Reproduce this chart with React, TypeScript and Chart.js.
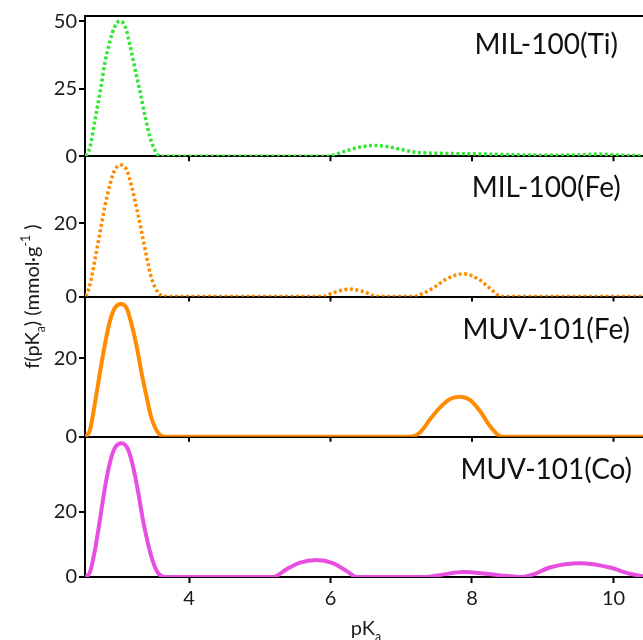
import React, { useEffect, useRef } from 'react';
import { Chart, registerables } from 'chart.js';

Chart.register(...registerables);

// ---- data ----
const xTi = [2.54, 2.6, 2.67, 2.75, 2.81, 2.88, 2.95, 3.02, 3.1, 3.17, 3.24, 3.3, 3.38, 3.45, 3.52, 3.59, 3.8, 4.5, 5.5, 5.9, 6.0, 6.2, 6.4, 6.63, 6.8, 7.0, 7.2, 7.5, 8.0, 8.5, 9.0, 9.5, 9.8, 10.1, 10.42];
const yTi = [0, 3.3, 13.2, 24.9, 34.4, 42.4, 47.9, 50, 47.9, 40.5, 31.9, 24.9, 14.7, 7.0, 2.1, 0, 0, 0, 0, 0, 0.2, 1.8, 3.3, 4.0, 3.6, 2.5, 1.5, 1.1, 0.9, 0.6, 0.4, 0.5, 0.8, 0.4, 0.2];

const xFeMIL = [2.54, 2.6, 2.67, 2.74, 2.81, 2.88, 2.95, 3.035, 3.12, 3.19, 3.26, 3.33, 3.4, 3.47, 3.57, 3.66, 4.5, 5.5, 5.89, 6.05, 6.28, 6.5, 6.65, 7.0, 7.17, 7.3, 7.45, 7.64, 7.88, 8.11, 8.25, 8.42, 9.0, 10.42];
const yFeMIL = [0, 3.2, 10.0, 17.3, 24.5, 30.4, 34.5, 35.9, 34.5, 30, 24.1, 17.7, 10.9, 5.0, 0.9, 0, 0, 0, 0, 1.1, 2.0, 1.1, 0, 0, 0, 0.8, 2.3, 4.8, 6.2, 4.5, 2.3, 0, 0, 0];

const xFeMUV = [2.54, 2.6, 2.67, 2.74, 2.81, 2.88, 2.95, 3.035, 3.12, 3.19, 3.26, 3.33, 3.4, 3.47, 3.57, 3.66, 4.5, 5.5, 6.5, 7.12, 7.265, 7.41, 7.55, 7.69, 7.83, 7.97, 8.11, 8.25, 8.37, 8.45, 9.0, 10.42];
const yFeMUV = [0, 1.7, 8.5, 16.2, 23.4, 29.3, 32.7, 33.8, 32.7, 28.5, 23, 16.2, 10.2, 4.7, 0.85, 0, 0, 0, 0, 0, 1.1, 4.5, 7.5, 9.6, 10.2, 9.4, 6.6, 2.8, 0.4, 0, 0, 0];

const xCo = [2.54, 2.6, 2.67, 2.74, 2.81, 2.88, 2.95, 3.05, 3.14, 3.21, 3.28, 3.35, 3.42, 3.5, 3.57, 3.66, 4.5, 5.19, 5.38, 5.57, 5.8, 6.04, 6.23, 6.37, 7.0, 7.36, 7.6, 7.88, 8.2, 8.5, 8.68, 8.87, 9.1, 9.53, 9.95, 10.23, 10.42];
const yCo = [0, 1.5, 8.2, 17.4, 27.2, 34.9, 39.5, 41.0, 39, 33.8, 26.2, 17.4, 10.3, 4.1, 1.0, 0, 0, 0, 2.4, 4.4, 5.2, 4.2, 1.8, 0, 0, 0, 0.8, 1.5, 1.0, 0.3, 0, 0.8, 2.9, 4.2, 2.9, 1.0, 0.2];

const panelLabels = ['MIL-100(Ti)', 'MIL-100(Fe)', 'MUV-101(Fe)', 'MUV-101(Co)'];
const panelMax = [51.9, 38.3, 35.7, 43];
const panelTicks = [[0, 25, 50], [0, 20], [0, 20], [0, 20]];
const labelX = 9.05;
const labelY = [41.2, 29.6, 27.2, 32.8];
const xTicks = [4, 6, 8, 10];
const xMin = 2.53;
const xMax = 10.417;
const yTitle = [
  { t: 'f(pK', k: 'n' },
  { t: 'a', k: 'sub' },
  { t: ') (mmol\u00B7g', k: 'n' },
  { t: '-1', k: 'sup' },
  { t: ' )', k: 'n' },
];
const xTitle = [
  { t: 'pK', k: 'n' },
  { t: 'a', k: 'sub' },
];

const colors = ['#33e633', '#ff8c00', '#ff8c00', '#e84fe0'];
const dashed = [true, true, false, false];
const seriesX = [xTi, xFeMIL, xFeMUV, xCo];
const seriesY = [yTi, yFeMIL, yFeMUV, yCo];
const axisIds = ['yTi', 'yFeMIL', 'yFeMUV', 'yCo'];

const FONT = 'Lato, "Noto Sans", sans-serif';
const TXT = '#1a1a1a';

function drawRich(ctx: CanvasRenderingContext2D, segs: { t: string; k: string }[], size: number) {
  const small = size * 0.62;
  const fontFor = (k: string) => `${k === 'n' ? size : small}px ${FONT}`;
  let total = 0;
  segs.forEach((s) => {
    ctx.font = fontFor(s.k);
    total += ctx.measureText(s.t).width;
  });
  let x = -total / 2;
  ctx.textAlign = 'left';
  ctx.textBaseline = 'alphabetic';
  segs.forEach((s) => {
    ctx.font = fontFor(s.k);
    const dy = s.k === 'sub' ? size * 0.28 : s.k === 'sup' ? -size * 0.45 : 0;
    ctx.fillText(s.t, x, dy);
    x += ctx.measureText(s.t).width;
  });
}

const extras = {
  id: 'extras',
  beforeDatasetsDraw(chart: any) {
    const ctx = chart.ctx as CanvasRenderingContext2D;
    const xs = chart.scales.x;
    ctx.save();
    ctx.strokeStyle = '#000';
    ctx.lineWidth = 2;
    axisIds.slice(0, 3).forEach((id) => {
      const s = chart.scales[id];
      const y0 = s.getPixelForValue(0);
      xTicks.forEach((v) => {
        const px = xs.getPixelForValue(v);
        ctx.beginPath();
        ctx.moveTo(px, y0);
        ctx.lineTo(px, y0 + 5);
        ctx.stroke();
      });
    });
    ctx.restore();
  },
  afterDraw(chart: any) {
    const ctx = chart.ctx as CanvasRenderingContext2D;
    const xs = chart.scales.x;
    const area = chart.chartArea;
    ctx.save();
    ctx.fillStyle = '#111';
    ctx.font = `28px ${FONT}`;
    ctx.textAlign = 'center';
    ctx.textBaseline = 'middle';
    axisIds.forEach((id, i) => {
      const s = chart.scales[id];
      ctx.fillText(panelLabels[i], xs.getPixelForValue(labelX), s.getPixelForValue(labelY[i]));
    });
    ctx.fillStyle = TXT;
    // y title
    ctx.save();
    ctx.translate(39, (area.top + area.bottom) / 2);
    ctx.rotate(-Math.PI / 2);
    drawRich(ctx, yTitle, 20);
    ctx.restore();
    // x title
    ctx.save();
    ctx.translate((area.left + area.right) / 2 + 2, 635);
    drawRich(ctx, xTitle, 20);
    ctx.restore();
    ctx.restore();
  },
};

export default function App() {
  const ref = useRef<HTMLCanvasElement>(null);
  useEffect(() => {
    if (!ref.current) return;
    const datasets = axisIds.map((id, i) => ({
      label: panelLabels[i],
      data: seriesX[i].map((x, j) => ({ x, y: seriesY[i][j] })),
      yAxisID: id,
      xAxisID: 'x',
      borderColor: colors[i],
      backgroundColor: colors[i],
      borderWidth: dashed[i] ? 3.5 : 4,
      borderDash: dashed[i] ? [3, 2.5] : [],
      pointRadius: 0,
      cubicInterpolationMode: 'monotone' as const,
      fill: false,
    }));
    const scales: any = {
      x: {
        type: 'linear',
        position: 'bottom',
        min: xMin,
        max: xMax,
        afterBuildTicks: (s: any) => {
          s.ticks = xTicks.map((v) => ({ value: v }));
        },
        afterFit: (s: any) => {
          s.height = 63;
        },
        grid: { drawOnChartArea: false, drawTicks: true, tickLength: 6, tickColor: '#000', tickWidth: 2 },
        border: { display: true, color: '#000', width: 2 },
        ticks: { font: { family: FONT, size: 20 }, color: TXT, padding: 4, maxRotation: 0 },
      },
      xTop: {
        type: 'linear',
        position: 'top',
        min: xMin,
        max: xMax,
        grid: { display: false, drawTicks: false },
        ticks: { display: false },
        border: { display: true, color: '#000', width: 2 },
        afterFit: (s: any) => {
          s.height = 0;
        },
      },
    };
    for (let i = axisIds.length - 1; i >= 0; i--) {
      const ticks = panelTicks[i];
      scales[axisIds[i]] = {
        type: 'linear',
        position: 'left',
        stack: 'panels',
        stackWeight: 1,
        min: 0,
        max: panelMax[i],
        afterBuildTicks: (s: any) => {
          s.ticks = ticks.map((v) => ({ value: v }));
        },
        afterFit: (s: any) => {
          s.width = 85;
        },
        grid: {
          color: (c: any) => (c.tick && c.tick.value === 0 ? '#000' : 'rgba(0,0,0,0)'),
          lineWidth: 2,
          drawTicks: true,
          tickLength: 6,
          tickColor: '#000',
          tickWidth: 2,
        },
        border: { display: true, color: '#000', width: 2 },
        ticks: { font: { family: FONT, size: 20 }, color: TXT, padding: 2, autoSkip: false },
      };
    }
    const chart = new Chart(ref.current, {
      type: 'line',
      data: { datasets },
      options: {
        animation: false,
        responsive: false,
        maintainAspectRatio: false,
        layout: { padding: { top: 16, left: 0, right: 0, bottom: 0 } },
        plugins: { legend: { display: false }, tooltip: { enabled: false }, title: { display: false } },
        scales,
      },
      plugins: [extras],
    });
    return () => chart.destroy();
  }, []);
  return (
    <div style={{ position: 'fixed', left: 0, top: 0, width: 643, height: 640, background: '#fff' }}>
      <canvas ref={ref} width={643} height={640} style={{ display: 'block' }} />
    </div>
  );
}
